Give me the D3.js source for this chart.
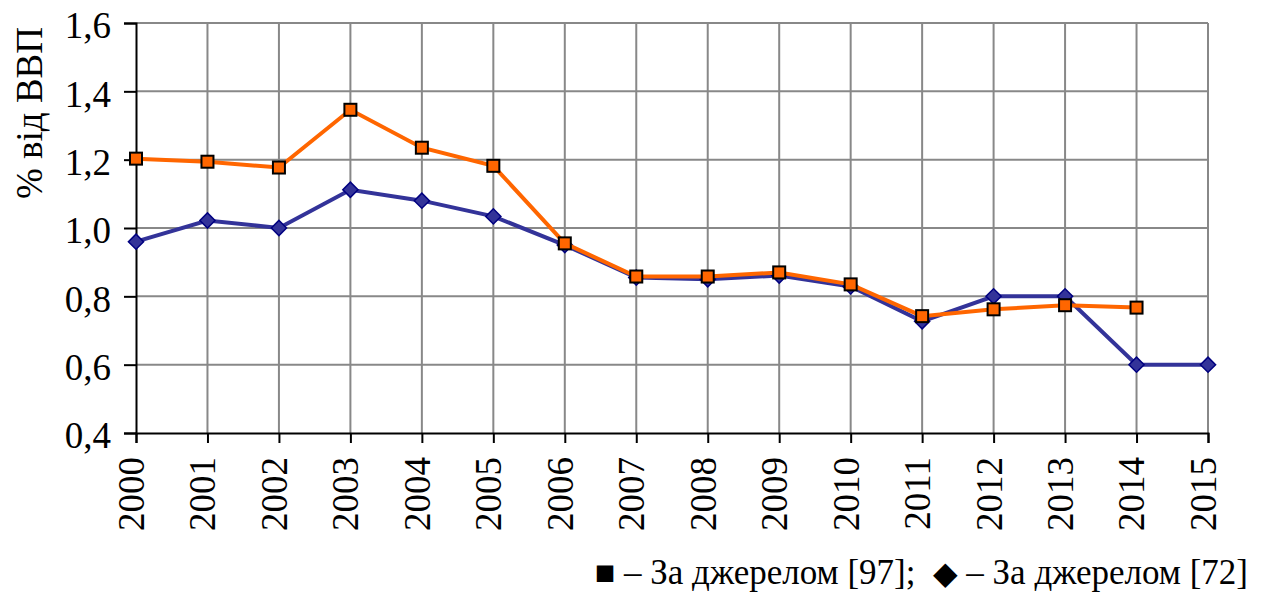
<!DOCTYPE html>
<html>
<head>
<meta charset="utf-8">
<script src="https://cdn.jsdelivr.net/npm/d3@7"></script>
<style>
  body { margin: 0; background: #fff; }
</style>
</head>
<body>
<div class="canvas"></div>
<script>
// years on the x axis
const years = [2000,2001,2002,2003,2004,2005,2006,2007,2008,2009,2010,2011,2012,2013,2014,2015];
// source [97] – orange squares (no 2015 value)
const src97 = [1.203,1.194,1.177,1.346,1.235,1.182,0.955,0.858,0.858,0.870,0.835,0.742,0.762,0.774,0.767,null];
// source [72] – blue diamonds
const src72 = [0.960,1.022,1.000,1.112,1.080,1.034,0.950,0.855,0.850,0.861,0.829,0.727,0.800,0.800,0.600,0.600];
const yTicks = [0.4,0.6,0.8,1.0,1.2,1.4,1.6];

const W = 1266, H = 594;
const mLeft = 136, mRight = 1208, mTop = 23, mBottom = 433;
const serif = "'Liberation Serif', 'DejaVu Serif', 'Times New Roman', serif";

const svg = d3.select('.canvas').append('svg')
    .attr('width', W)
    .attr('height', H)
    .attr('font-family', serif);

const x = d3.scaleLinear().domain([2000, 2015]).range([mLeft, mRight]);
const y = d3.scaleLinear().domain([0.4, 1.6]).range([mBottom, mTop]);

// grid
const grid = svg.append('g');
grid.selectAll('.gx').data(years.slice(1)).enter().append('line')
    .attr('x1', d => x(d)).attr('x2', d => x(d))
    .attr('y1', mTop).attr('y2', mBottom)
    .attr('stroke', '#888').attr('stroke-width', 2);
grid.selectAll('.gy').data(yTicks.slice(1)).enter().append('line')
    .attr('x1', mLeft).attr('x2', mRight)
    .attr('y1', d => y(d)).attr('y2', d => y(d))
    .attr('stroke', '#888').attr('stroke-width', 2);

// axes
const yAxis = d3.axisLeft(y).tickValues(yTicks).tickSize(12).tickPadding(13)
    .tickFormat(d => d3.format('.1f')(d).replace('.', ','));
const gy = svg.append('g').attr('transform', `translate(${mLeft},0)`).call(yAxis)
    .attr('font-family', serif).attr('font-size', 37);
gy.select('.domain').attr('stroke', '#000').attr('stroke-width', 2);
gy.selectAll('.tick line').attr('stroke', '#000').attr('stroke-width', 2);
gy.selectAll('.tick text').attr('fill', '#000').attr('dy', '0.4em');

const xAxis = d3.axisBottom(x).tickValues(years).tickSize(10).tickFormat(d3.format('d'));
const gx = svg.append('g').attr('transform', `translate(0,${mBottom})`).call(xAxis)
    .attr('font-family', serif).attr('font-size', 37);
gx.select('.domain').attr('stroke', '#000').attr('stroke-width', 2);
gx.selectAll('.tick line').attr('stroke', '#000').attr('stroke-width', 2);
gx.selectAll('.tick text')
    .attr('fill', '#000')
    .attr('transform', 'rotate(-90)')
    .attr('text-anchor', 'end')
    .attr('x', -24).attr('y', 0).attr('dy', '0.2em');

// y title
svg.append('text')
    .attr('transform', 'translate(42,113) rotate(-90)')
    .attr('text-anchor', 'middle')
    .attr('font-size', 37)
    .text('% від ВВП');

// lines
const line = d3.line()
    .defined(d => d[1] != null)
    .x(d => x(d[0])).y(d => y(d[1]));

const d72 = years.map((yr, i) => [yr, src72[i]]);
const d97 = years.map((yr, i) => [yr, src97[i]]).filter(d => d[1] != null);

svg.append('path').datum(d72).attr('d', line)
    .attr('fill', 'none').attr('stroke', '#333399').attr('stroke-width', 4);
svg.selectAll('.dia').data(d72).enter().append('path')
    .attr('d', d3.symbol().type(d3.symbolSquare).size(115))
    .attr('transform', d => `translate(${x(d[0])},${y(d[1])}) rotate(45)`)
    .attr('fill', '#333399').attr('stroke', '#000080').attr('stroke-width', 1.5);

svg.append('path').datum(d97).attr('d', line)
    .attr('fill', 'none').attr('stroke', '#ff6600').attr('stroke-width', 4);
svg.selectAll('.sq').data(d97).enter().append('rect')
    .attr('x', d => x(d[0]) - 6).attr('y', d => y(d[1]) - 6)
    .attr('width', 12).attr('height', 12)
    .attr('fill', '#ff6600').attr('stroke', '#000').attr('stroke-width', 2);

// legend
const leg = svg.append('text')
    .attr('x', 1248).attr('y', 584)
    .attr('text-anchor', 'end')
    .attr('font-size', 35);
leg.append('tspan').attr('font-size', 34).text('■');
leg.append('tspan').text(' – За джерелом [97];\u00a0\u00a0');
leg.append('tspan').attr('font-size', 32).text('◆');
leg.append('tspan').text(' – За джерелом [72]');
</script>
</body>
</html>
